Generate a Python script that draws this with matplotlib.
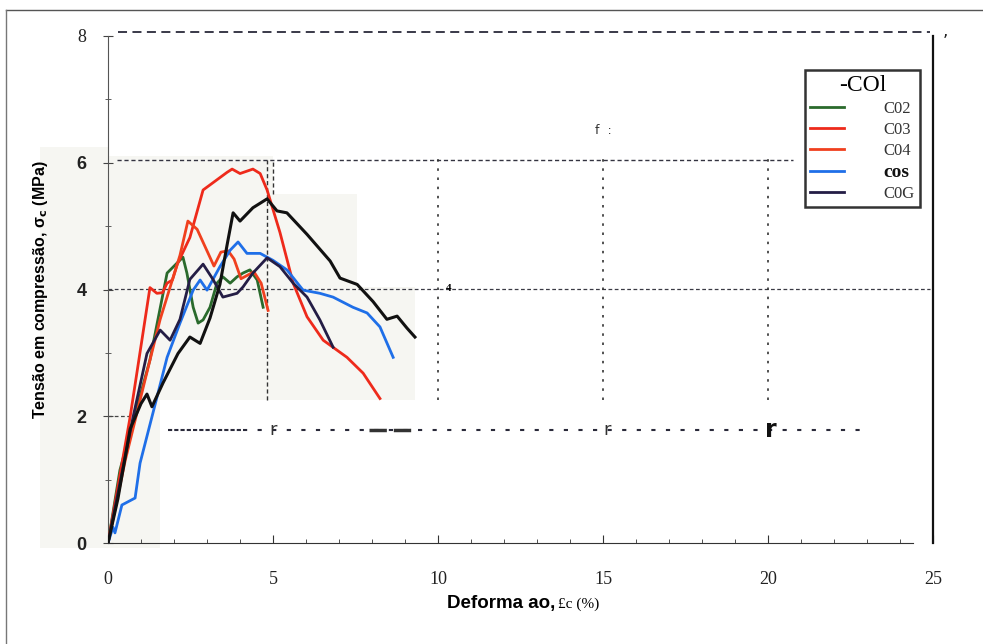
import matplotlib
matplotlib.use("Agg")
import matplotlib.pyplot as plt
from matplotlib.lines import Line2D
from matplotlib.patches import Polygon

# curvas tensao-deformacao (deformacao %, tensao MPa)
c01_eps = [0, 0.3, 0.67, 1.0, 1.18, 1.33, 1.67, 2.12, 2.48, 2.79, 3.09, 3.39, 3.61, 3.79, 4.0, 4.39,
           4.82, 5.12, 5.42, 6.03, 6.73, 7.03, 7.55, 8.03, 8.45, 8.76, 9.06, 9.3]
c01_sig = [0, 0.7, 1.8, 2.2, 2.35, 2.15, 2.53, 2.99, 3.25, 3.15, 3.55, 4.08, 4.71, 5.21, 5.08, 5.29,
           5.43, 5.24, 5.21, 4.87, 4.45, 4.18, 4.08, 3.81, 3.53, 3.58, 3.39, 3.25]

c02_eps = [0, 0.36, 1.27, 1.79, 2.27, 2.39, 2.58, 2.73, 2.88, 3.09, 3.3, 3.48, 3.7, 3.91, 4.09, 4.3, 4.52, 4.7]
c02_sig = [0, 1.15, 2.89, 4.26, 4.51, 4.26, 3.72, 3.47, 3.52, 3.72, 4.1, 4.2, 4.1, 4.2, 4.26, 4.31, 4.15, 3.72]

c03_eps = [0, 0.67, 1.27, 1.48, 1.65, 1.79, 1.95, 2.1, 2.48, 2.88, 3.61, 3.76, 4.0, 4.39, 4.61, 4.82,
           5.21, 5.61, 6.03, 6.52, 7.24, 7.73, 8.24]
c03_sig = [0, 1.99, 4.03, 3.94, 3.95, 4.1, 4.15, 4.4, 4.82, 5.57, 5.85, 5.9, 5.83, 5.9, 5.83, 5.57,
           4.9, 4.1, 3.57, 3.2, 2.93, 2.68, 2.28]

c04_eps = [0, 0.52, 1.12, 1.58, 2.18, 2.42, 2.7, 3.21, 3.42, 3.64, 3.82, 4.03, 4.42, 4.64, 4.85]
c04_sig = [0, 1.3, 2.57, 3.53, 4.54, 5.08, 4.95, 4.37, 4.59, 4.61, 4.48, 4.17, 4.28, 4.1, 3.67]

c05_eps = [0, 0.15, 0.21, 0.42, 0.82, 0.97, 1.36, 1.79, 2.18, 2.58, 2.79, 3.0, 3.39, 3.7, 3.94, 4.21,
           4.61, 5.0, 5.42, 5.91, 6.42, 6.82, 7.42, 7.85, 8.24, 8.64]
c05_sig = [0, 0.25, 0.16, 0.6, 0.71, 1.26, 2.05, 2.93, 3.47, 3.99, 4.15, 3.99, 4.36, 4.62, 4.75, 4.57,
           4.57, 4.46, 4.31, 3.99, 3.94, 3.88, 3.72, 3.63, 3.41, 2.93]

c06_eps = [0, 0.76, 1.18, 1.58, 1.88, 2.18, 2.48, 2.88, 3.18, 3.48, 3.91, 4.09, 4.39, 4.82, 5.21,
           5.61, 6.03, 6.42, 6.82]
c06_sig = [0, 1.99, 2.99, 3.36, 3.2, 3.53, 4.16, 4.4, 4.16, 3.88, 3.94, 4.04, 4.26, 4.5, 4.36,
           4.1, 3.88, 3.52, 3.09]

x_ticks = [0, 5, 10, 15, 20, 25]
y_ticks = [0, 2, 4, 6, 8]

fig = plt.figure(figsize=(9.83, 6.44), dpi=100)
ax = fig.add_axes([0.1099, 0.1568, 0.8393, 0.7873])
ax.set_xlim(0, 25)
ax.set_ylim(0, 8)

# fundo da figura digitalizada
scan = [(-2.06, 6.25), (0, 6.25), (0, 6.1), (5.0, 6.1), (5.0, 5.5), (7.55, 5.5), (7.55, 4.04),
        (9.3, 4.04), (9.3, 2.26), (1.58, 2.26), (1.58, -0.08), (-2.06, -0.08)]
ax.add_patch(Polygon(scan, closed=True, facecolor="#f6f6f2", edgecolor="none",
                     clip_on=False, zorder=0))

# linhas de referencia tracejadas
ax.plot([0.3, 24.9], [8.07, 8.07], ls=(0, (5, 3)), color="#2a2a3a", lw=1.3, clip_on=False)
ax.plot([0.27, 20.76], [6.05, 6.05], ls=(0, (3, 2)), color="#333340", lw=1.0)
ax.plot([0, 24.9], [4.01, 4.01], ls=(0, (3, 2)), color="#3a3a44", lw=0.9)
ax.plot([0, 0.8], [2.0, 2.0], ls=(0, (3, 2)), color="#444", lw=0.9)
ax.plot([1.82, 4.1], [1.79, 1.79], ls=(0, (2, 1)), color="#2a2a3a", lw=1.5)
ax.plot([4.1, 23.1], [1.79, 1.79], ls=(0, (2, 5)), color="#2a2a3a", lw=1.5)
ax.plot([7.9, 9.2], [1.79, 1.79], ls=(0, (5, 2)), color="#333", lw=2.5)
ax.plot([4.82, 4.82], [2.25, 6.05], ls=(0, (3, 2)), color="#333", lw=1.0)
ax.plot([5.0, 5.0], [5.5, 6.05], ls=(0, (3, 2)), color="#333", lw=1.0)
for xv in [10, 15, 20]:
    ax.plot([xv, xv], [2.25, 6.1], ls=(0, (1.5, 4)), color="#333", lw=1.2)

# curvas
ax.plot(c02_eps, c02_sig, color="#2a6a2c", lw=2.0, label="C02", zorder=3)
ax.plot(c03_eps, c03_sig, color="#ee2a1b", lw=2.0, label="C03", zorder=3)
ax.plot(c04_eps, c04_sig, color="#f0401e", lw=2.0, label="C04", zorder=3)
ax.plot(c05_eps, c05_sig, color="#1f6fe8", lw=2.0, label="cos", zorder=3)
ax.plot(c06_eps, c06_sig, color="#241d45", lw=2.0, label="C0G", zorder=3)
ax.plot(c01_eps, c01_sig, color="#111111", lw=2.2, label="_C01", zorder=3)

# eixos
ax.spines["top"].set_visible(False)
ax.spines["left"].set_color("#555")
ax.spines["left"].set_linewidth(0.8)
ax.spines["right"].set_linewidth(1.6)
ax.spines["right"].set_color("#111")
ax.spines["bottom"].set_bounds(0, 24.4)
ax.spines["bottom"].set_color("#333")

ax.set_xticks(x_ticks)
ax.set_xticks(range(0, 25), minor=True)
ax.set_yticks(y_ticks)
ax.set_yticks([1, 3, 5, 7], minor=True)
ax.tick_params(axis="x", which="major", direction="in", length=6, pad=20, color="#333")
ax.tick_params(axis="x", which="minor", direction="in", length=3, color="#333")
ax.tick_params(axis="y", which="major", direction="inout", length=7, pad=12, color="#444")
ax.tick_params(axis="y", which="minor", direction="inout", length=4, color="#444")
ax.tick_params(right=False, which="both")
ax.set_xticklabels([str(v) for v in x_ticks], family="Liberation Serif", fontsize=13, color="#222")
ax.set_yticklabels([str(v) for v in y_ticks], family="Liberation Sans", fontsize=13,
                   fontweight="bold", color="#222")
ax.get_yticklabels()[-1].set_family("Liberation Serif")
ax.get_yticklabels()[-1].set_fontweight("normal")

ax.set_ylabel("Tensão em compressão, σ$_\\mathbf{c}$ (MPa)", family="Liberation Sans",
              fontweight="bold", fontsize=11.5)
ax.yaxis.set_label_coords(-0.07, 0.5)
ax.text(0.542, -0.12, "Deforma ao,", transform=ax.transAxes, ha="right", va="center",
        family="Liberation Sans", fontweight="bold", fontsize=13.5)
ax.text(0.545, -0.12, "£c (%)", transform=ax.transAxes, ha="left", va="center",
        family="Liberation Serif", fontsize=11)

# restos do scan
ax.text(15.0, 6.45, "f  :", fontsize=9, color="#333", ha="center")
ax.text(10.25, 4.02, "4", fontsize=8, fontweight="bold", family="Liberation Serif", va="center")
ax.text(4.9, 1.79, "r", fontsize=13, color="#333", va="center")
ax.text(15.0, 1.79, "r", fontsize=13, color="#333", va="center")
ax.text(19.9, 1.79, "r", fontsize=17, fontweight="bold", color="#111", va="center")
ax.text(25.3, 8.0, ",", fontsize=12, color="#222")

leg = ax.legend(loc="upper right", bbox_to_anchor=(0.994, 0.95), title="-COl",
                prop={"family": "Liberation Serif", "size": 12}, frameon=True, fancybox=False,
                handlelength=2.0, handletextpad=2.4, borderpad=0.3, labelspacing=0.3)
leg.get_title().set_fontsize(17)
leg.get_title().set_family("Liberation Serif")
leg.get_frame().set_edgecolor("#333")
leg.get_frame().set_linewidth(1.8)
leg.get_frame().set_alpha(1)
for t in leg.get_texts():
    t.set_color("#333")
    if t.get_text() == "cos":
        t.set_fontweight("bold")
        t.set_fontsize(14)
        t.set_color("#111")

# moldura da pagina
fig.add_artist(Line2D([0.006, 1.0], [0.985, 0.985], color="#555", lw=1.0))
fig.add_artist(Line2D([0.006, 0.006], [0.0, 0.985], color="#777", lw=1.0))

fig.savefig("out.png", dpi=100)
